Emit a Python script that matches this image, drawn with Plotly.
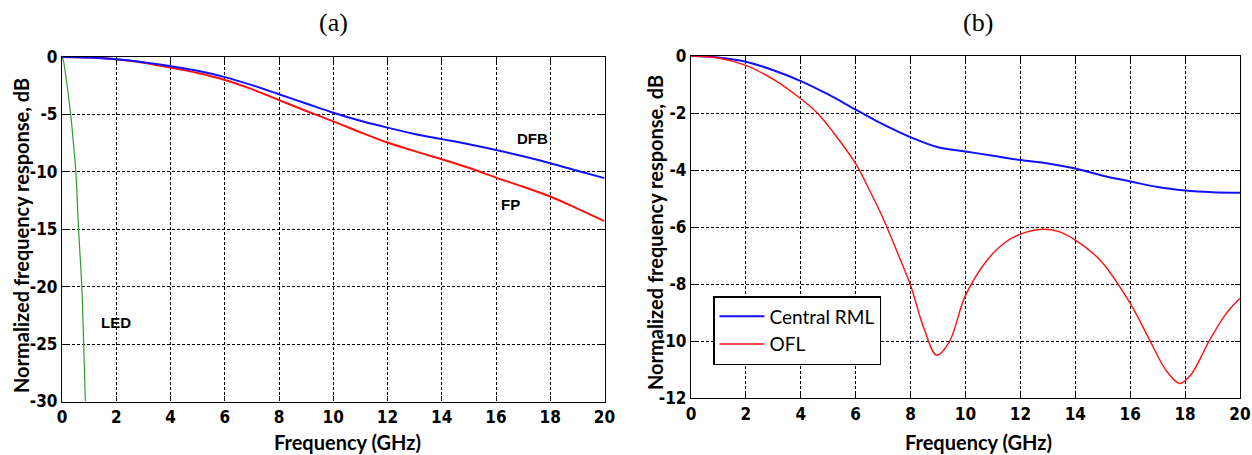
import plotly.graph_objects as go

# ---------------- Data: panel (a) ----------------
f_a = [0, 1, 2, 3, 4, 5, 6, 7, 8, 9, 10, 11, 12, 13, 14, 15, 16, 17, 18, 19, 20]
dfb = [0, -0.05, -0.2, -0.45, -0.8, -1.2, -1.75, -2.45, -3.25, -4.05, -4.85,
       -5.55, -6.15, -6.7, -7.15, -7.6, -8.1, -8.65, -9.25, -9.9, -10.55]
fp = [0, -0.05, -0.2, -0.5, -0.92, -1.4, -2.0, -2.8, -3.75, -4.7, -5.6,
      -6.55, -7.45, -8.2, -8.9, -9.65, -10.5, -11.3, -12.15, -13.2, -14.3]
f_led = [0, 0.05, 0.1, 0.19, 0.32, 0.42, 0.51, 0.61, 0.73, 0.8, 0.86]
led = [0, -0.3, -1.0, -2.5, -5, -7.5, -10, -15, -20, -25, -30]

# ---------------- Data: panel (b) ----------------
f_b = [0, 1, 2, 3, 4, 5, 6, 7, 8, 9, 10, 11, 12, 13, 14, 15, 16, 17, 18, 19, 20]
rml = [0, -0.05, -0.2, -0.5, -0.88, -1.35, -1.88, -2.4, -2.85, -3.2, -3.35,
       -3.5, -3.65, -3.77, -3.95, -4.2, -4.4, -4.6, -4.72, -4.78, -4.8]
f_ofl = [0, 1, 2, 3, 4, 4.6, 5.2, 6, 6.5, 7, 7.5, 8, 8.5, 8.95, 9.4, 10, 10.8,
         11.4, 12, 12.8, 13.4, 14, 14.9, 16, 16.7, 17.3, 17.8, 18.2, 18.9, 19.5, 20]
ofl = [0, -0.07, -0.33, -0.82, -1.5, -2.0, -2.7, -3.78, -4.7, -5.7, -6.85,
       -8.05, -9.6, -10.5, -10.05, -8.4, -7.15, -6.57, -6.25, -6.08, -6.16,
       -6.46, -7.16, -8.68, -9.95, -11.02, -11.49, -11.2, -9.96, -9.03, -8.5]

x_ticks = [0, 2, 4, 6, 8, 10, 12, 14, 16, 18, 20]
y_ticks_a = [0, -5, -10, -15, -20, -25, -30]
y_ticks_b = [0, -2, -4, -6, -8, -10, -12]
y_text_a = ["0", "-5", "-10", "-15", "-20", "-25", "-30"]
y_text_b = ["0", "-2", "-4", "-6", "-8", "-10", "-12"]

W, H = 1252, 455
fig = go.Figure()

fig.add_trace(go.Scatter(x=f_led, y=led, mode="lines", line=dict(color="#2e9a2e", width=1.2, shape="spline"),
                         showlegend=False, xaxis="x", yaxis="y"))
fig.add_trace(go.Scatter(x=f_a, y=fp, mode="lines", line=dict(color="#ff1010", width=2, shape="spline"),
                         showlegend=False, xaxis="x", yaxis="y"))
fig.add_trace(go.Scatter(x=f_a, y=dfb, mode="lines", line=dict(color="#1010ff", width=2, shape="spline"),
                         showlegend=False, xaxis="x", yaxis="y"))

fig.add_trace(go.Scatter(x=f_b, y=rml, mode="lines", name="Central RML",
                         line=dict(color="#1010ff", width=2, shape="spline"), xaxis="x2", yaxis="y2"))
fig.add_trace(go.Scatter(x=f_ofl, y=ofl, mode="lines", name="OFL",
                         line=dict(color="#ff1010", width=1.4, shape="spline", smoothing=1.0),
                         xaxis="x2", yaxis="y2"))

tickfont = dict(family="DejaVu Sans Condensed, Roboto Condensed, Liberation Sans", size=17,
                color="black", weight="bold")
grid = dict(showgrid=True, gridcolor="black", gridwidth=1, griddash="3px,2px",
            showline=True, linecolor="black", linewidth=1.2, mirror="ticks",
            ticks="inside", ticklen=5, tickcolor="black", zeroline=False,
            tickfont=tickfont, automargin=False)

fig.update_layout(
    width=W, height=H, margin=dict(l=0, r=0, t=0, b=0, autoexpand=False),
    paper_bgcolor="white", plot_bgcolor="white",
    xaxis=dict(domain=[62 / W, 604.5 / W], range=[0, 20], tickvals=x_ticks, anchor="y", **grid),
    yaxis=dict(domain=[1 - 401.5 / H, 1 - 57 / H], range=[-30, 0], tickvals=y_ticks_a,
               ticktext=y_text_a, anchor="x", **grid),
    xaxis2=dict(domain=[691 / W, 1240 / W], range=[0, 20], tickvals=x_ticks, anchor="y2", **grid),
    yaxis2=dict(domain=[1 - 398 / H, 1 - 56 / H], range=[-12, 0], tickvals=y_ticks_b,
                ticktext=y_text_b, anchor="x2", **grid),
    legend=dict(x=713 / W, y=1 - 296 / H, xanchor="left", yanchor="top",
                bgcolor="white", bordercolor="black", borderwidth=1.5,
                font=dict(family="Lato, Open Sans", size=19, color="black"),
                itemwidth=45),
)

title_font = dict(family="Liberation Serif, Times New Roman", size=26, color="black")
lab_font = dict(family="Lato, Open Sans", size=20, color="black")
ann = [
    dict(text="(a)", x=333 / W, y=1 - 22 / H, font=title_font),
    dict(text="(b)", x=978 / W, y=1 - 22 / H, font=title_font),
    dict(text="<b>Normalized frequency response, dB</b>", x=21 / W, y=1 - 236 / H,
         textangle=-90, font=lab_font),
    dict(text="<b>Normalized frequency response, dB</b>", x=655 / W, y=1 - 233 / H,
         textangle=-90, font=lab_font),
    dict(text="<b>Frequency (GHz)</b>", x=347 / W, y=1 - 442 / H, font=lab_font),
    dict(text="<b>Frequency (GHz)</b>", x=978 / W, y=1 - 442 / H, font=lab_font),
]
for a in ann:
    fig.add_annotation(xref="paper", yref="paper", showarrow=False,
                       xanchor="center", yanchor="middle", **a)

lbl = dict(family="Liberation Sans, Arial", size=15, color="black")
fig.add_annotation(x=17.33, y=-7.07, xref="x", yref="y", text="<b>DFB</b>", showarrow=False, font=lbl)
fig.add_annotation(x=16.53, y=-12.87, xref="x", yref="y", text="<b>FP</b>", showarrow=False, font=lbl)
fig.add_annotation(x=2.0, y=-23.1, xref="x", yref="y", text="<b>LED</b>", showarrow=False, font=lbl)

fig.write_html("out.html")
